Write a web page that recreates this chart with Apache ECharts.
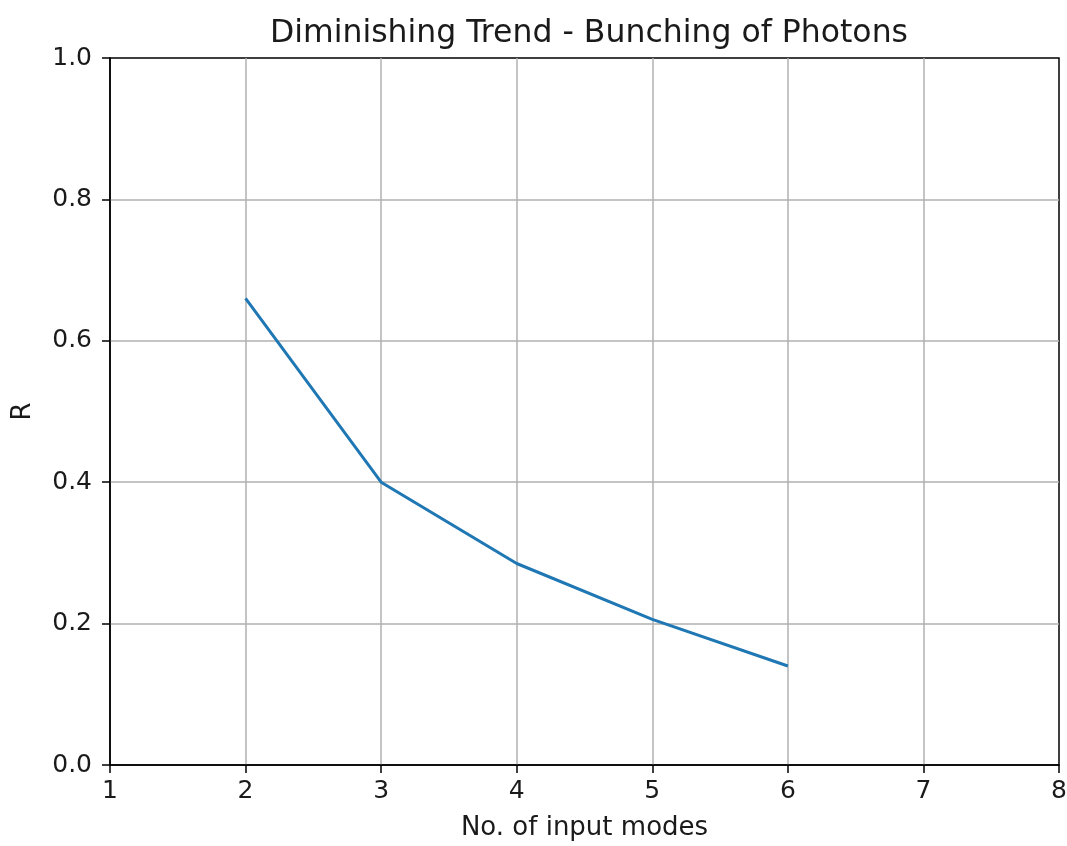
<!DOCTYPE html>
<html>
<head>
<meta charset="utf-8">
<script src="https://cdn.jsdelivr.net/npm/echarts@6/dist/echarts.min.js"></script>
<style>
  html, body { margin: 0; padding: 0; background: #fff; }
  #main { width: 1067px; height: 846px; }
</style>
</head>
<body>
<div id="main"></div>
<script>
var modes = [2, 3, 4, 5, 6];
var rValues = [0.66, 0.40, 0.285, 0.206, 0.14];
var xTicks = [1, 2, 3, 4, 5, 6, 7, 8];
var yTicks = [0, 0.2, 0.4, 0.6, 0.8, 1.0];

var font = 'DejaVu Sans';
var chart = echarts.init(document.getElementById('main'));

var option = {
    animation: false,
    title: {
        text: 'Diminishing Trend - Bunching of Photons',
        left: 584, top: 13, textAlign: 'center',
        textStyle: { fontFamily: font, fontSize: 31.5, fontWeight: 'normal', color: '#1a1a1a' }
    },
    grid: {
        left: 110, right: 8, top: 58, bottom: 81,
        outerBoundsMode: 'none', containLabel: false,
        show: true, borderColor: '#000', borderWidth: 1.5, backgroundColor: 'transparent'
    },
    xAxis: {
        type: 'value', min: 1, max: 8, interval: 1,
        name: 'No. of input modes', nameLocation: 'middle', nameGap: 50,
        nameTextStyle: { fontFamily: font, fontSize: 26, color: '#1a1a1a' },
        axisLine: { show: true, lineStyle: { color: '#000', width: 1.5 } },
        axisTick: { show: true, length: 8, lineStyle: { color: '#000', width: 1.5 } },
        axisLabel: { fontFamily: font, fontSize: 25, color: '#1a1a1a', margin: 14,
            formatter: function (v) { return xTicks.indexOf(v) >= 0 ? String(v) : ''; } },
        splitLine: { show: true, showMinLine: false, showMaxLine: false,
            lineStyle: { color: '#b0b0b0', width: 1.5 } }
    },
    yAxis: {
        type: 'value', min: 0, max: 1, interval: 0.2,
        name: 'R', nameLocation: 'middle', nameGap: 74, nameRotate: 90,
        nameTextStyle: { fontFamily: font, fontSize: 26, color: '#1a1a1a' },
        axisLine: { show: true, lineStyle: { color: '#000', width: 1.5 } },
        axisTick: { show: true, length: 8, lineStyle: { color: '#000', width: 1.5 } },
        axisLabel: { fontFamily: font, fontSize: 25, color: '#1a1a1a', margin: 18,
            formatter: function (v) { return v.toFixed(1); } },
        splitLine: { show: true, showMinLine: false, showMaxLine: false,
            lineStyle: { color: '#b0b0b0', width: 1.5 } }
    },
    series: [{
        type: 'line',
        data: modes.map(function (m, i) { return [m, rValues[i]]; }),
        showSymbol: false,
        lineStyle: { color: '#1f77b4', width: 3 },
        itemStyle: { color: '#1f77b4' }
    }]
};
chart.setOption(option);
</script>
</body>
</html>
